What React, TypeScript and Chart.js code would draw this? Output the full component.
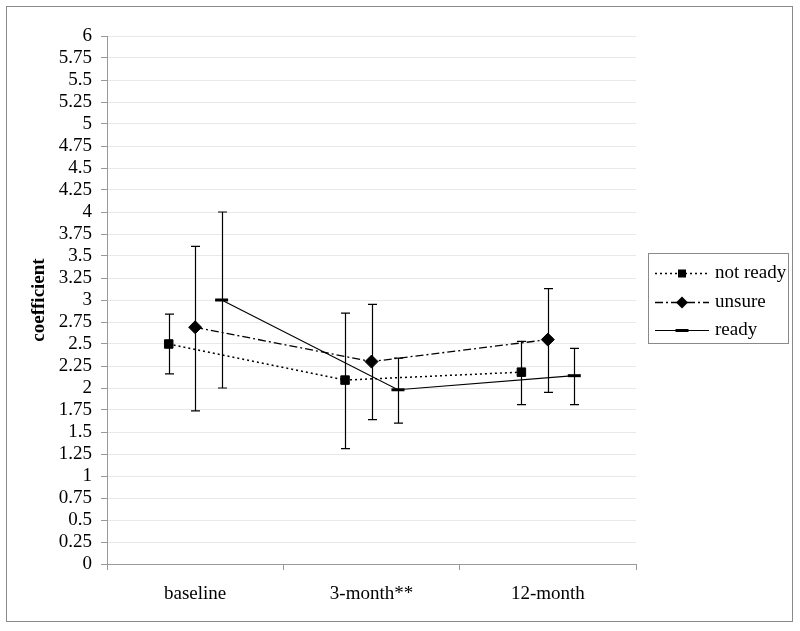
import React, { useEffect, useRef } from 'react';
import { Chart, registerables } from 'chart.js';

Chart.register(...registerables);

const categories = ['baseline', '3-month**', '12-month'];
const seriesNames = ['not ready', 'unsure', 'ready'];

const notReady = [2.5, 2.09, 2.18];
const notReadyHi = [2.84, 2.85, 2.53];
const notReadyLo = [2.16, 1.31, 1.81];

const unsure = [2.69, 2.3, 2.55];
const unsureHi = [3.61, 2.95, 3.13];
const unsureLo = [1.74, 1.64, 1.95];

const ready = [3.0, 1.98, 2.14];
const readyHi = [4.0, 2.34, 2.45];
const readyLo = [2.0, 1.6, 1.81];

const yMin = 0;
const yMax = 6;
const yStep = 0.25;

const seriesOffsets = [-0.15, 0, 0.15];

const FONT = '"Liberation Serif", "Times New Roman", serif';
const FS = 19;

const values = [notReady, unsure, ready];
const his = [notReadyHi, unsureHi, readyHi];
const los = [notReadyLo, unsureLo, readyLo];
const dashes = [[2, 3], [8, 3, 2, 3], []];
const widths = [1.5, 1.3, 1.2];
const pointStyles = ['rect', 'rectRot', 'line'];
const pointRadii = [6, 6.5, 6.5];
const pointBorders = [1, 1, 3];

function drawMarker(ctx: CanvasRenderingContext2D, style: string, x: number, y: number) {
  ctx.save();
  ctx.setLineDash([]);
  ctx.fillStyle = '#000';
  ctx.strokeStyle = '#000';
  if (style === 'rect') {
    ctx.fillRect(x - 4, y - 4, 8, 8);
  } else if (style === 'rectRot') {
    ctx.beginPath();
    ctx.moveTo(x, y - 6);
    ctx.lineTo(x + 6, y);
    ctx.lineTo(x, y + 6);
    ctx.lineTo(x - 6, y);
    ctx.closePath();
    ctx.fill();
  } else {
    ctx.lineWidth = 3;
    ctx.beginPath();
    ctx.moveTo(x - 6.5, y);
    ctx.lineTo(x + 6.5, y);
    ctx.stroke();
  }
  ctx.restore();
}

const errorBarPlugin = {
  id: 'errorBars',
  beforeDatasetsDraw(chart: any) {
    const ctx = chart.ctx as CanvasRenderingContext2D;
    const xs = chart.scales.x;
    const ys = chart.scales.y;
    ctx.save();
    ctx.strokeStyle = '#000';
    ctx.lineWidth = 1.2;
    ctx.setLineDash([]);
    values.forEach((_, s) => {
      categories.forEach((_, i) => {
        const px = Math.round(xs.getPixelForValue(i + 0.5 + seriesOffsets[s])) + 0.5;
        const top = ys.getPixelForValue(his[s][i]);
        const bot = ys.getPixelForValue(los[s][i]);
        ctx.beginPath();
        ctx.moveTo(px, top);
        ctx.lineTo(px, bot);
        ctx.moveTo(px - 4.5, top);
        ctx.lineTo(px + 4.5, top);
        ctx.moveTo(px - 4.5, bot);
        ctx.lineTo(px + 4.5, bot);
        ctx.stroke();
      });
    });
    ctx.restore();
  },
};

const frameLegendPlugin = {
  id: 'frameLegend',
  afterDraw(chart: any) {
    const ctx = chart.ctx as CanvasRenderingContext2D;
    ctx.save();
    ctx.strokeStyle = '#8a8a8a';
    ctx.lineWidth = 1;
    ctx.setLineDash([]);
    ctx.strokeRect(6.5, 6.5, 786, 615);
    // legend box
    ctx.strokeRect(648.5, 253.5, 140, 90);
    const rows = [273, 302, 330];
    seriesNames.forEach((name, s) => {
      const y = rows[s];
      ctx.save();
      ctx.strokeStyle = '#000';
      ctx.lineWidth = widths[s];
      ctx.setLineDash(dashes[s]);
      ctx.beginPath();
      ctx.moveTo(655, y + 0.5);
      ctx.lineTo(709, y + 0.5);
      ctx.stroke();
      ctx.restore();
      drawMarker(ctx, pointStyles[s], 682, y + 0.5);
      ctx.fillStyle = '#000';
      ctx.font = `${FS}px ${FONT}`;
      ctx.textAlign = 'left';
      ctx.textBaseline = 'middle';
      ctx.fillText(name, 715, y);
    });
    ctx.restore();
  },
};

export default function App() {
  const ref = useRef<HTMLCanvasElement | null>(null);

  useEffect(() => {
    if (!ref.current) return;
    const datasets = values.map((vals, s) => ({
      label: seriesNames[s],
      data: vals.map((v, i) => ({ x: i + 0.5 + seriesOffsets[s], y: v })),
      borderColor: '#000',
      backgroundColor: '#000',
      borderWidth: widths[s],
      borderDash: dashes[s],
      pointStyle: pointStyles[s] as any,
      pointRadius: pointRadii[s],
      pointBorderWidth: pointBorders[s],
      pointBorderColor: '#000',
      pointBackgroundColor: '#000',
      showLine: true,
      tension: 0,
    }));

    const chart = new Chart(ref.current, {
      type: 'scatter',
      data: { datasets },
      options: {
        animation: false,
        responsive: false,
        devicePixelRatio: 1,
        layout: { padding: { left: 0, right: 164, top: 36, bottom: 0 } },
        plugins: { legend: { display: false }, tooltip: { enabled: false } },
        scales: {
          x: {
            type: 'linear',
            min: 0,
            max: 3,
            afterBuildTicks: (scale: any) => {
              scale.ticks = [0, 0.5, 1, 1.5, 2, 2.5, 3].map((v) => ({ value: v }));
            },
            afterFit: (scale: any) => {
              scale.height = 67;
            },
            ticks: {
              autoSkip: false,
              maxRotation: 0,
              padding: 13,
              color: '#000',
              font: { family: FONT, size: FS },
              callback: (v: any) => (Number.isInteger(v) ? '' : categories[Math.floor(v)]),
            },
            grid: {
              drawOnChartArea: false,
              drawTicks: true,
              tickLength: 6,
              tickColor: (c: any) => (Number.isInteger(c.tick?.value) ? '#999' : 'rgba(0,0,0,0)'),
            },
            border: { color: '#999' },
          },
          y: {
            type: 'linear',
            min: yMin,
            max: yMax,
            afterFit: (scale: any) => {
              scale.width = 107;
            },
            ticks: {
              stepSize: yStep,
              autoSkip: false,
              padding: 9,
              color: '#000',
              font: { family: FONT, size: FS },
              callback: (v: any) => String(v),
            },
            grid: {
              color: '#e8e8e8',
              tickColor: '#999',
              tickLength: 6,
            },
            border: { color: '#999' },
            title: {
              display: true,
              text: 'coefficient',
              color: '#000',
              font: { family: FONT, size: FS, weight: 'bold' },
              padding: { top: 28, bottom: 0 },
            },
          },
        },
      },
      plugins: [errorBarPlugin, frameLegendPlugin],
    });
    return () => chart.destroy();
  }, []);

  return (
    <div style={{ position: 'absolute', left: 0, top: 0, width: 800, height: 631, background: '#fff' }}>
      <canvas ref={ref} width={800} height={631} style={{ display: 'block' }} />
    </div>
  );
}
